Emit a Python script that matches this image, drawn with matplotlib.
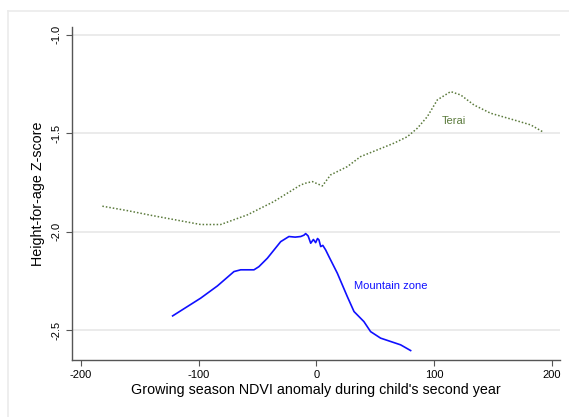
import matplotlib
matplotlib.use("Agg")
import matplotlib.pyplot as plt
from matplotlib.lines import Line2D

plt.rcParams['font.family'] = ['Liberation Sans', 'DejaVu Sans']
plt.rcParams['axes.unicode_minus'] = False

# Terai (dotted olive line)
terai_x = [-181.8, -160.0, -140.7, -120.0, -98.3, -81.3, -58.6, -36.3, -13.3,
           -9.1, -3.4, 5.1, 12.1, 26.3, 37.6, 51.8, 65.9, 77.3, 85.8, 94.3,
           102.8, 114.1, 122.6, 133.9, 148.1, 167.9, 182.1, 192.0]
terai_y = [-1.871, -1.894, -1.917, -1.940, -1.964, -1.964, -1.915, -1.848, -1.763,
           -1.754, -1.746, -1.768, -1.712, -1.670, -1.619, -1.585, -1.551, -1.518,
           -1.475, -1.416, -1.331, -1.289, -1.306, -1.357, -1.399, -1.433, -1.458,
           -1.492]

# Mountain zone (solid blue line)
mount_x = [-122.1, -98.3, -84.1, -70.0, -64.3, -53.0, -48.8, -41.6, -30.3, -23.3,
           -18.0, -13.3, -10.5, -9.1, -7.0, -4.8, -2.5, -0.6, 1.0, 2.2, 3.7, 5.5,
           7.9, 10.7, 17.8, 26.3, 32.0, 40.4, 46.1, 54.6, 71.6, 80.1]
mount_y = [-2.428, -2.338, -2.276, -2.203, -2.194, -2.194, -2.178, -2.135, -2.051,
           -2.025, -2.028, -2.025, -2.018, -2.010, -2.022, -2.059, -2.040, -2.056,
           -2.035, -2.042, -2.076, -2.070, -2.093, -2.127, -2.211, -2.330, -2.406,
           -2.457, -2.508, -2.541, -2.575, -2.604]

xticks = [-200, -100, 0, 100, 200]
yticks = [-1.0, -1.5, -2.0, -2.5]
ytick_labels = ['-1.0', '-1.5', '-2.0', '-2.5']

terai_col = '#5b7a3c'
mount_col = '#1010ff'

fig = plt.figure(figsize=(5.69, 4.17), dpi=100)
ax = fig.add_axes([72 / 569, 1 - 360 / 417, (560 - 72) / 569, (360 - 27) / 417])

# outer graph region border
fig.add_artist(Line2D([8 / 569, 1.0], [1 - 11 / 417, 1 - 11 / 417], color='#ebebeb', lw=1.2))
fig.add_artist(Line2D([8 / 569, 8 / 569], [0.0, 1 - 11 / 417], color='#ebebeb', lw=1.2))

ax.plot(terai_x, terai_y, color=terai_col, lw=1.1, linestyle=(0, (1, 1.3)))
ax.plot(mount_x, mount_y, color=mount_col, lw=1.2)

ax.text(116.7, -1.438, 'Terai', color=terai_col, fontsize=8, ha='center', va='center')
ax.text(63.1, -2.276, 'Mountain zone', color=mount_col, fontsize=8, ha='center', va='center')

ax.set_xlim(-207.6, 207.0)
ax.set_ylim(-2.652, -0.961)
ax.set_xticks(xticks)
ax.set_yticks(yticks)
ax.set_yticklabels(ytick_labels, rotation=90, va='center')
ax.grid(axis='y', color='#e8e8e8', lw=1.2)
ax.set_axisbelow(True)

for s in ['top', 'right']:
    ax.spines[s].set_visible(False)
for s in ['left', 'bottom']:
    ax.spines[s].set_color('#555555')
    ax.spines[s].set_linewidth(1.0)
ax.tick_params(direction='out', length=4.5, width=0.8, color='#555555', labelsize=8, pad=3)

ax.set_xlabel("Growing season NDVI anomaly during child's second year", fontsize=10.3, labelpad=2)
ax.set_ylabel('Height-for-age Z-score', fontsize=10.3, labelpad=5)

fig.savefig('out.png', dpi=100)
